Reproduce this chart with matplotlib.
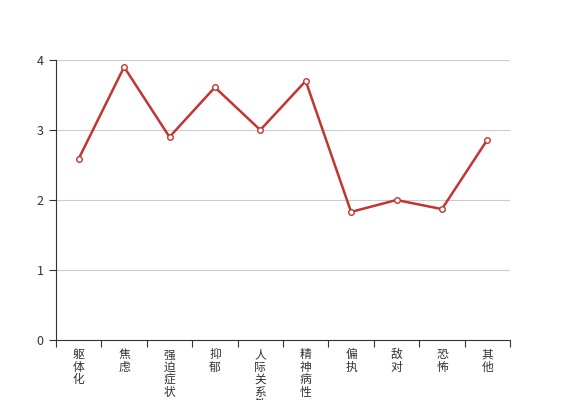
import matplotlib
matplotlib.use("Agg")
import matplotlib.pyplot as plt
import numpy as np

plt.rcParams['font.family'] = ['Noto Sans CJK SC', 'DejaVu Sans']

# data
categories = ['躯体化', '焦虑', '强迫症状', '抑郁', '人际关系敏感',
              '精神病性', '偏执', '敌对', '恐怖', '其他']
values = [2.59, 3.9, 2.9, 3.61, 3.0, 3.7, 1.83, 2.0, 1.87, 2.86]
yticks = [0, 1, 2, 3, 4]

fig = plt.figure(figsize=(5.67, 4.0), dpi=100)
ax = fig.add_axes([56/567, 1 - 340/400, (510 - 56)/567, 280/400])

x = np.arange(len(categories))
ax.plot(x, values, color='#c23531', lw=1.8, marker='o', ms=4,
        mfc='white', mec='#c23531', mew=1, zorder=3)

ax.set_xlim(-0.5, len(categories) - 0.5)
ax.set_ylim(0, 4)
ax.set_yticks(yticks)
ax.grid(axis='y', color='#cccccc', lw=0.8)
ax.set_axisbelow(True)

# category ticks at the band edges, labels in the middle
ax.set_xticks(np.arange(len(categories) + 1) - 0.5)
ax.set_xticklabels([])
ax.set_xticks(x, minor=True)
ax.set_xticklabels(['\n'.join(c) for c in categories], minor=True,
                   fontsize=8.5, color='#333333', linespacing=0.94, va='top')
ax.tick_params(axis='x', which='minor', length=0, pad=6)
ax.tick_params(axis='x', which='major', length=5, color='#333333')
ax.tick_params(axis='y', length=5, color='#333333', labelsize=9,
               labelcolor='#333333', pad=4)

for s in ['top', 'right']:
    ax.spines[s].set_visible(False)
ax.spines['left'].set_color('#333333')
ax.spines['bottom'].set_color('#333333')

fig.savefig('out.png', dpi=100)
